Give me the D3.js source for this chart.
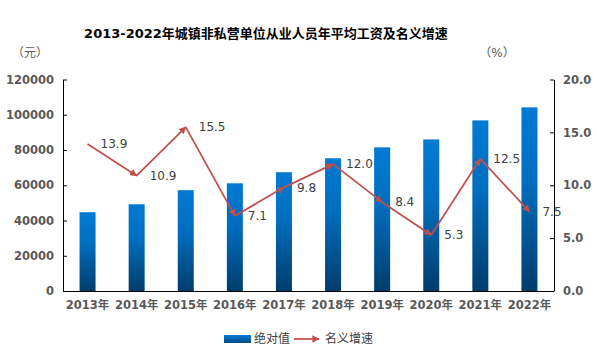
<!DOCTYPE html>
<html><head><meta charset="utf-8">
<script src="https://cdn.jsdelivr.net/npm/d3@7"></script>
<style>
body{margin:0;background:#fff;}
text{font-family:"DejaVu Sans","Noto Sans CJK SC",sans-serif;}
</style></head>
<body><svg id="c" width="597" height="358"></svg>
<script>
const years = ["2013年","2014年","2015年","2016年","2017年","2018年","2019年","2020年","2021年","2022年"];
const wages = [44700, 49200, 57200, 61100, 67400, 75300, 81500, 86000, 96800, 104200];
const growth = [13.9, 10.9, 15.5, 7.1, 9.8, 12.0, 8.4, 5.3, 12.5, 7.5];
const leftTicks = [0, 20000, 40000, 60000, 80000, 100000, 120000];
const rightTicks = [0, 5, 10, 15, 20];
const title = "2013-2022年城镇非私营单位从业人员年平均工资及名义增速";

const svg = d3.select("#c");
const L = 63, R = 554, T = 79.5, B = 291;
const pi = 1 - 16/49.1;
const x = d3.scaleBand().domain(years).range([L, R]).paddingInner(pi).paddingOuter(pi/2);
const yL = d3.scaleLinear().domain([0, 120000]).range([B, T]);
const yR = d3.scaleLinear().domain([0, 20]).range([B, T]);
const lineColor = "#C0504D";
const labelColor = "#595959";

const defs = svg.append("defs");
const g = defs.append("linearGradient").attr("id","barg").attr("x1",0).attr("y1",0).attr("x2",0).attr("y2",1);
g.append("stop").attr("offset","0%").attr("stop-color","#007AD4");
g.append("stop").attr("offset","40%").attr("stop-color","#006EBF");
g.append("stop").attr("offset","100%").attr("stop-color","#003D6C");
const lg = defs.append("linearGradient").attr("id","legg").attr("x1",0).attr("y1",0).attr("x2",0).attr("y2",1);
lg.append("stop").attr("offset","0%").attr("stop-color","#007AD4");
lg.append("stop").attr("offset","100%").attr("stop-color","#004A82");
defs.append("marker").attr("id","arr").attr("viewBox","0 0 10 10").attr("refX",9).attr("refY",5)
  .attr("markerWidth",4.2).attr("markerHeight",4.2).attr("orient","auto").attr("markerUnits","strokeWidth")
  .append("path").attr("d","M0,0 L10,5 L0,10 z").attr("fill",lineColor);

// title
svg.append("text").attr("x",266).attr("y",38).attr("text-anchor","middle")
  .attr("font-size","13px").attr("font-weight","bold").attr("fill","#000").text(title);
svg.append("text").attr("x",30).attr("y",57).attr("text-anchor","middle").attr("font-size","12px").attr("fill",labelColor).text("（元）");
svg.append("text").attr("x",497).attr("y",57).attr("text-anchor","middle").attr("font-size","12px").attr("fill",labelColor).text("（%）");

// bars
svg.append("g").selectAll("rect").data(wages).join("rect")
  .attr("x",(d,i)=>x(years[i])).attr("width",x.bandwidth())
  .attr("y",d=>yL(d)).attr("height",d=>B-yL(d)).attr("fill","url(#barg)");

// axes
const axL = d3.axisLeft(yL).tickValues(leftTicks).tickSizeInner(-4).tickSizeOuter(0).tickPadding(9).tickFormat(d3.format("d"));
const gl = svg.append("g").attr("transform",`translate(${L},0)`).call(axL);
const axR = d3.axisRight(yR).tickValues(rightTicks).tickSizeInner(-4).tickSizeOuter(0).tickPadding(9).tickFormat(d3.format(".1f"));
const gr = svg.append("g").attr("transform",`translate(${R},0)`).call(axR);
const axB = d3.axisBottom(x).tickSize(0).tickPadding(10);
const gb = svg.append("g").attr("transform",`translate(0,${B})`).call(axB);
[gl,gr,gb].forEach(a=>{
  a.selectAll("path.domain").attr("stroke","#000").attr("stroke-width",1);
  a.selectAll(".tick line").attr("stroke","#000");
  a.selectAll(".tick text").attr("font-size","11.5px").attr("font-weight","bold").attr("fill",labelColor)
   .attr("font-family",'"DejaVu Sans","Noto Sans CJK SC",sans-serif');
});
gb.select("path.domain").attr("d",`M${L},0.5H${R}`);

// line segments with arrows
const pts = growth.map((v,i)=>[x(years[i])+x.bandwidth()/2, yR(v)]);
const seg = d3.line();
svg.append("g").selectAll("path").data(d3.pairs(pts)).join("path")
  .attr("d",d=>seg(d)).attr("fill","none").attr("stroke",lineColor).attr("stroke-width",1.75)
  .attr("marker-end","url(#arr)");
svg.append("g").selectAll("text").data(growth).join("text")
  .attr("x",(d,i)=>pts[i][0]+13).attr("y",(d,i)=>pts[i][1]).attr("dy","0.35em")
  .attr("font-size","12px").attr("fill","#404040").text(d=>d3.format(".1f")(d));

// legend
svg.append("rect").attr("x",224).attr("y",335).attr("width",27).attr("height",8).attr("fill","url(#legg)");
svg.append("text").attr("x",254).attr("y",339).attr("dy","0.35em").attr("font-size","12px").attr("fill","#404040").text("绝对值");
svg.append("line").attr("x1",294).attr("y1",339).attr("x2",319).attr("y2",339)
  .attr("stroke",lineColor).attr("stroke-width",1.75).attr("marker-end","url(#arr)");
svg.append("text").attr("x",325).attr("y",339).attr("dy","0.35em").attr("font-size","12px").attr("fill","#404040").text("名义增速");
</script></body></html>
